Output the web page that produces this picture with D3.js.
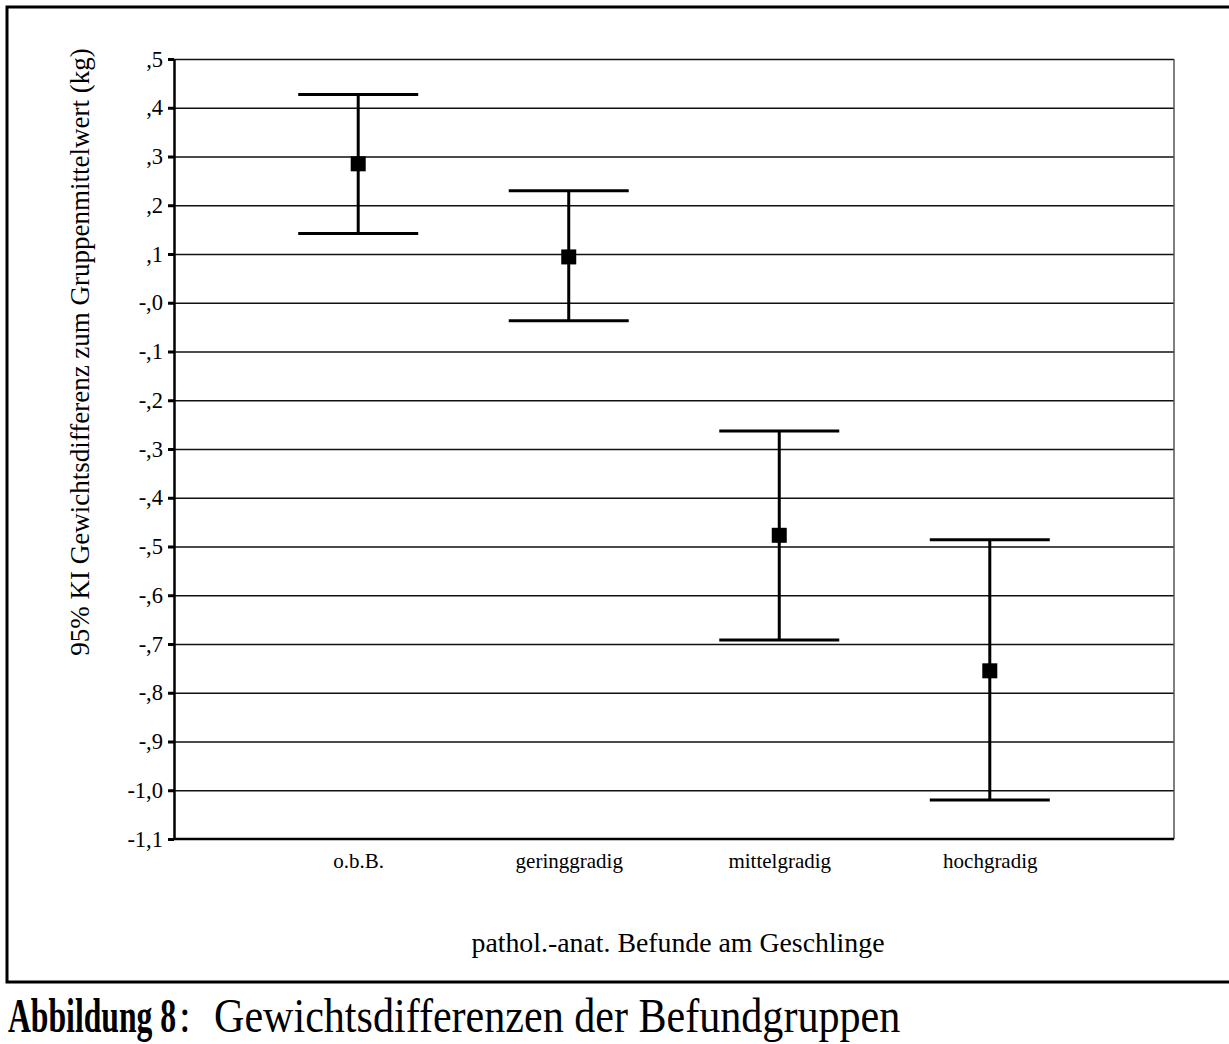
<!DOCTYPE html>
<html>
<head>
<meta charset="utf-8">
<script src="https://cdn.jsdelivr.net/npm/d3@7"></script>
<style>
  body { margin: 0; background: #fff; }
  svg { display: block; font-family: "Liberation Serif", "Times New Roman", serif; }
</style>
</head>
<body>
<svg id="chart" width="1229" height="1044"></svg>

<script type="text/javascript">
// values (95% CI of weight difference, kg)
var categories = ["o.b.B.", "geringgradig", "mittelgradig", "hochgradig"];
var means = [0.285, 0.094, -0.477, -0.755];
var lower = [0.142, -0.037, -0.692, -1.020];
var upper = [0.427, 0.230, -0.263, -0.486];

var tickValues = [0.5, 0.4, 0.3, 0.2, 0.1, 0.0, -0.1, -0.2, -0.3, -0.4, -0.5,
                  -0.6, -0.7, -0.8, -0.9, -1.0, -1.1];
var tickLabels = [",5", ",4", ",3", ",2", ",1", "-,0", "-,1", "-,2", "-,3", "-,4", "-,5",
                  "-,6", "-,7", "-,8", "-,9", "-1,0", "-1,1"];

var yTitle = "95% KI Gewichtsdifferenz zum Gruppenmittelwert (kg)";
var xTitle = "pathol.-anat. Befunde am Geschlinge";

var plot = {left: 174, right: 1174, top: 59, bottom: 839};

var svg = d3.select("#chart");

// outer frame of the figure
svg.append("rect")
  .attr("x", 7)
  .attr("y", 7)
  .attr("width", 1240)
  .attr("height", 975)
  .style("fill", "none")
  .style("stroke", "#000")
  .style("stroke-width", 3);

var x = d3.scalePoint()
  .domain(categories)
  .range([plot.left, plot.right])
  .padding(0.875);

var y = d3.scaleLinear()
  .domain([-1.1, 0.5])
  .range([plot.bottom, plot.top]);

// horizontal grid lines
var grid = d3.axisLeft(y)
  .tickValues(tickValues.filter(function (d) { return d > -1.05; }))
  .tickSize(-(plot.right - plot.left))
  .tickFormat("");

svg.append("g")
  .attr("class", "grid")
  .attr("transform", "translate(" + plot.left + ",0)")
  .call(grid)
  .call(function (g) { g.select(".domain").remove(); })
  .selectAll("line")
    .style("stroke", "#111")
    .style("stroke-width", 1.5);

// right border of the plot area
svg.append("line")
  .attr("x1", plot.right).attr("x2", plot.right)
  .attr("y1", plot.top).attr("y2", plot.bottom)
  .style("stroke", "#555")
  .style("stroke-width", 1.5);

// y axis
var yAxis = d3.axisLeft(y)
  .tickValues(tickValues)
  .tickFormat(function (d, i) { return tickLabels[i]; })
  .tickSize(6)
  .tickSizeOuter(0)
  .tickPadding(5);

var yg = svg.append("g")
  .attr("transform", "translate(" + plot.left + ",0)")
  .call(yAxis);
yg.select(".domain").style("stroke", "#000").style("stroke-width", 2.5);
yg.selectAll(".tick line").style("stroke", "#000").style("stroke-width", 3);
yg.selectAll(".tick text")
  .style("font-family", "Liberation Serif, Times New Roman, serif")
  .style("font-size", "22.5px")
  .style("fill", "#000");

// x axis
var xAxis = d3.axisBottom(x)
  .tickSize(0)
  .tickSizeOuter(0)
  .tickPadding(14);

var xg = svg.append("g")
  .attr("transform", "translate(0," + plot.bottom + ")")
  .call(xAxis);
xg.select(".domain")
  .attr("d", "M" + plot.left + ",0H" + plot.right)
  .style("stroke", "#000")
  .style("stroke-width", 2.5);
xg.selectAll(".tick text")
  .style("font-family", "Liberation Serif, Times New Roman, serif")
  .style("font-size", "21px")
  .style("fill", "#000");

// error bars
var capHalf = 60;
var bars = svg.append("g").selectAll("g")
  .data(categories)
  .enter().append("g");

bars.append("line")
  .attr("x1", function (d) { return x(d); })
  .attr("x2", function (d) { return x(d); })
  .attr("y1", function (d, i) { return y(lower[i]); })
  .attr("y2", function (d, i) { return y(upper[i]); })
  .style("stroke", "#000")
  .style("stroke-width", 3);

bars.append("line")
  .attr("x1", function (d) { return x(d) - capHalf; })
  .attr("x2", function (d) { return x(d) + capHalf; })
  .attr("y1", function (d, i) { return y(upper[i]); })
  .attr("y2", function (d, i) { return y(upper[i]); })
  .style("stroke", "#000")
  .style("stroke-width", 3);

bars.append("line")
  .attr("x1", function (d) { return x(d) - capHalf; })
  .attr("x2", function (d) { return x(d) + capHalf; })
  .attr("y1", function (d, i) { return y(lower[i]); })
  .attr("y2", function (d, i) { return y(lower[i]); })
  .style("stroke", "#000")
  .style("stroke-width", 3);

bars.append("rect")
  .attr("x", function (d) { return x(d) - 7.5; })
  .attr("y", function (d, i) { return y(means[i]) - 7.5; })
  .attr("width", 15)
  .attr("height", 15)
  .style("fill", "#000");

// axis titles
svg.append("text")
  .attr("transform", "translate(89,352) rotate(-90)")
  .attr("text-anchor", "middle")
  .style("font-size", "27px")
  .text(yTitle);

svg.append("text")
  .attr("x", 678)
  .attr("y", 952)
  .attr("text-anchor", "middle")
  .style("font-size", "27.8px")
  .text(xTitle);

// caption below the frame (glyphs in the original are taller than they are wide)
svg.append("text")
  .attr("transform", "translate(8,1032) scale(0.66,1)")
  .style("font-size", "48px")
  .style("font-weight", "bold")
  .text("Abbildung 8");

svg.append("text")
  .attr("transform", "translate(179,1032) scale(0.877,1)")
  .style("font-size", "48px")
  .text(":");

svg.append("text")
  .attr("transform", "translate(214,1032) scale(0.877,1)")
  .style("font-size", "48px")
  .text("Gewichtsdifferenzen der Befundgruppen");
</script>
</body>
</html>
